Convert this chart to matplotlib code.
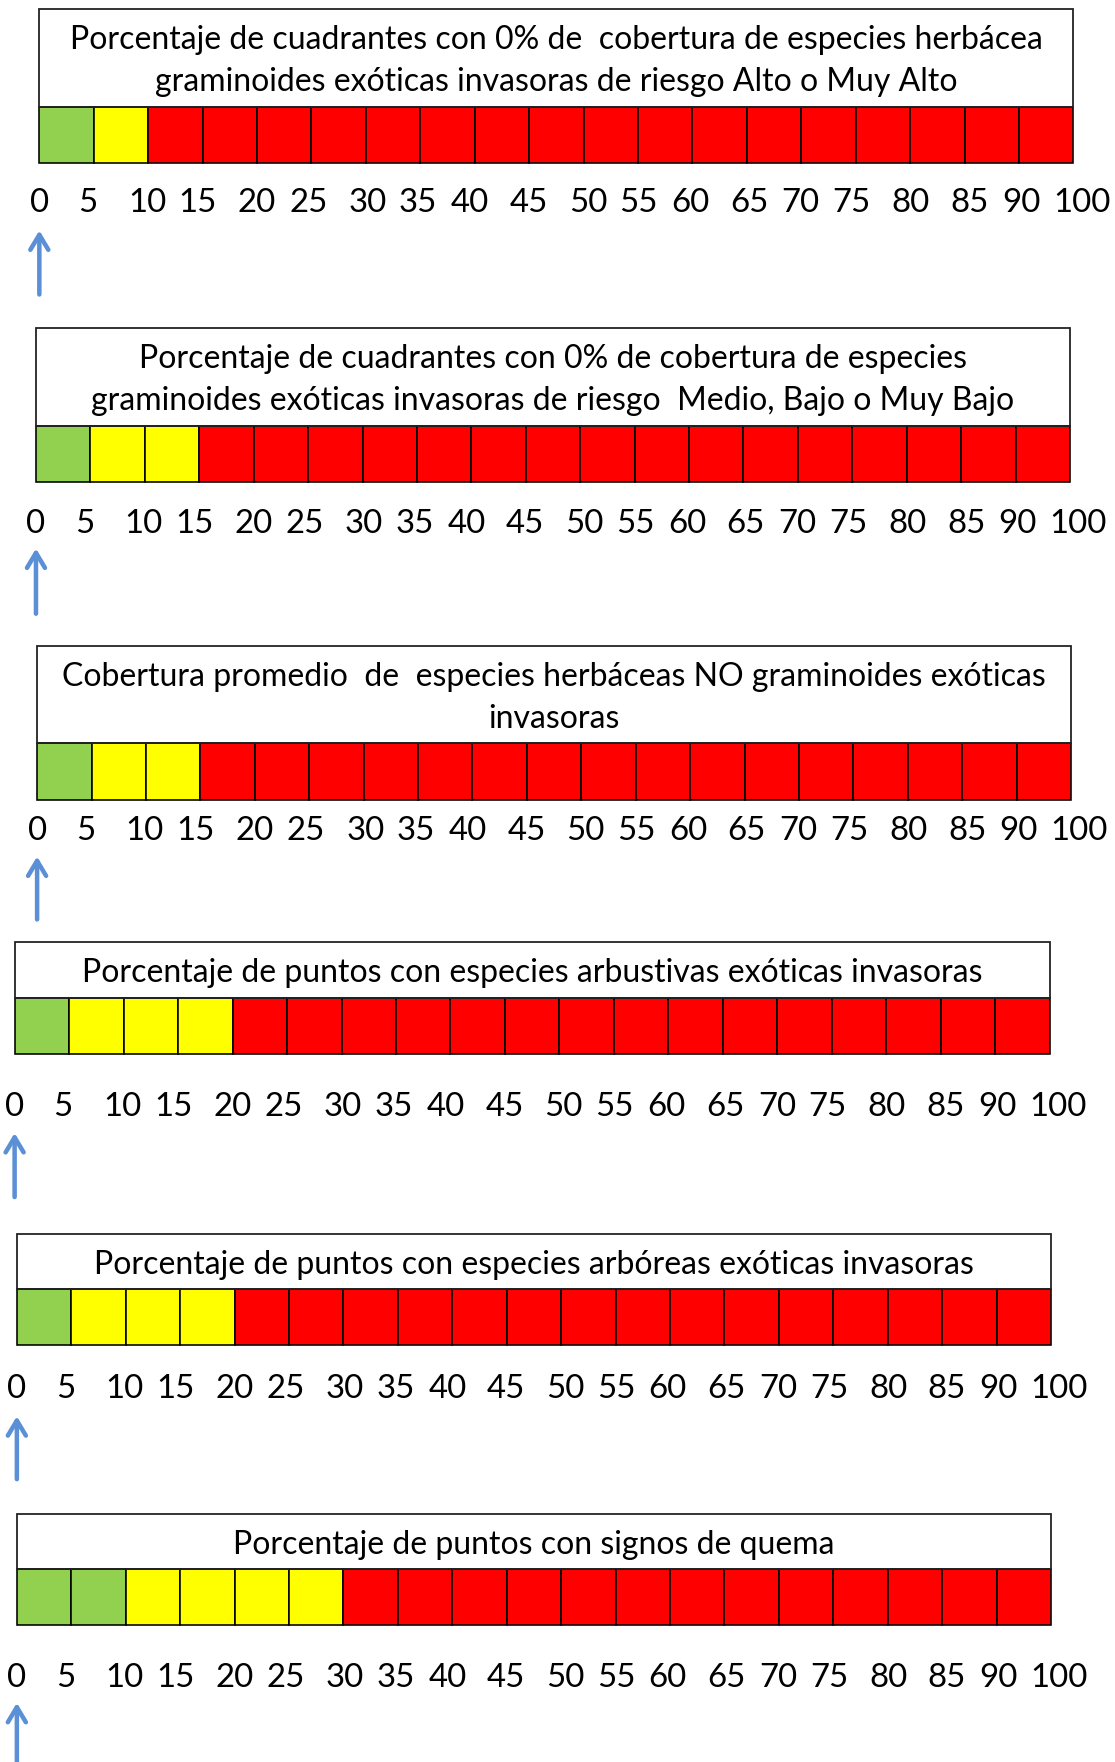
import matplotlib
matplotlib.use("Agg")
import matplotlib.pyplot as plt
from matplotlib.patches import Rectangle

# --- data ---
titles = [
    "Porcentaje de cuadrantes con 0% de  cobertura de especies herbácea\n"
    "graminoides exóticas invasoras de riesgo Alto o Muy Alto",
    "Porcentaje de cuadrantes con 0% de cobertura de especies\n"
    "graminoides exóticas invasoras de riesgo  Medio, Bajo o Muy Bajo",
    "Cobertura promedio  de  especies herbáceas NO graminoides exóticas\n"
    "invasoras",
    "Porcentaje de puntos con especies arbustivas exóticas invasoras",
    "Porcentaje de puntos con especies arbóreas exóticas invasoras",
    "Porcentaje de puntos con signos de quema",
]
n_green = [1, 1, 1, 1, 1, 2]
n_yellow = [1, 2, 2, 3, 3, 4]
tick_labels = ["0", "5", "10", "15", "20", "25", "30", "35", "40", "45",
               "50", "55", "60", "65", "70", "75", "80", "85", "90", "100"]
n_cells = len(tick_labels) - 1

GREEN, YELLOW, RED = "#92D050", "#FFFF00", "#FF0000"
ARROW = "#5B8FD6"

# layout in reference pixels (992 px wide view):
# box left, box right, title top, cell top, cell bottom, tick y, arrow top, arrow bottom
layout = [
    (35, 955, 8, 95, 145, 181, 205, 262),
    (32, 952, 292, 379, 429, 466, 488, 546),
    (33, 953, 575, 661, 712, 739, 762, 818),
    (13, 934, 838, 888, 938, 985, 1008, 1065),
    (15, 935, 1098, 1147, 1197, 1236, 1260, 1316),
    (15, 935, 1347, 1396, 1446, 1493, 1515, 1572),
]
# label centres (in cell units) as typed with spaces in the original
label_pos = [0, 0.89, 1.98, 2.91, 4.0, 4.94, 6.03, 6.96, 7.91, 8.99,
             10.08, 11.01, 11.96, 13.04, 13.99, 14.92, 16.01, 17.09, 18.04, 19.15]

W, H, DPI = 1115, 1762, 72
S = W / 992.0

plt.rcParams["font.family"] = ["Lato", "DejaVu Sans"]
fig = plt.figure(figsize=(W / DPI, H / DPI), dpi=DPI)

for k, (bl, br, tt, ct, cb, ty, at, ab) in enumerate(layout):
    cell_h = cb - ct
    ytop = (cb - tt) / cell_h
    ax = fig.add_axes([bl * S / W, 1 - cb * S / H,
                       (br - bl) * S / W, (cb - tt) * S / H])
    ax.set_xlim(0, n_cells)
    ax.set_ylim(0, ytop)
    ax.axis("off")

    n_red = n_cells - n_green[k] - n_yellow[k]
    colors = [GREEN] * n_green[k] + [YELLOW] * n_yellow[k] + [RED] * n_red
    ax.bar(range(n_cells), 1, width=1, align="edge", color=colors,
           edgecolor="black", linewidth=1.6, clip_on=False)

    # title box
    ax.add_patch(Rectangle((0, 1), n_cells, ytop - 1, fill=False,
                           edgecolor="#222222", linewidth=1.8, clip_on=False))
    ax.text(n_cells / 2, (1 + ytop) / 2 - 3 / cell_h, titles[k], ha="center",
            va="center", fontsize=32, linespacing=1.5, color="black")

    # scale labels
    ty_u = -(ty - cb) / cell_h
    for x, lab in zip(label_pos, tick_labels):
        ax.text(x, ty_u, lab, ha="center", va="center", fontsize=33,
                clip_on=False)

    # arrow pointing at 0
    ax.annotate("", xy=(0, -(at - cb) / cell_h), xytext=(0, -(ab - cb) / cell_h),
                arrowprops=dict(arrowstyle="->,head_length=0.75,head_width=0.45",
                                mutation_scale=20, color=ARROW, lw=4.5,
                                shrinkA=0, shrinkB=0),
                annotation_clip=False)

fig.savefig("out.png", dpi=DPI, facecolor="white")
plt.close(fig)
